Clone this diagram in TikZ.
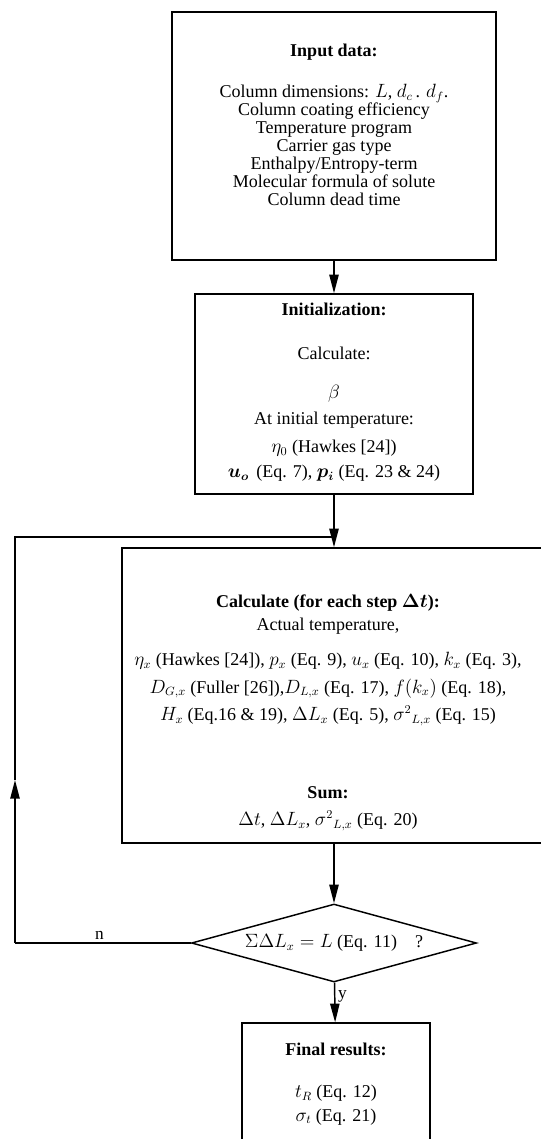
\documentclass[tikz,border=0pt]{standalone}
\usepackage{fontspec}
\setmainfont{Liberation Serif}
\usepackage{amsmath}
\usetikzlibrary{shapes.geometric, arrows.meta, positioning}

\begin{document}
\begin{tikzpicture}[x=0.75pt, y=-0.75pt,
    box/.style={rectangle, draw, line width=1.1pt},
    txt/.style={anchor=north, align=center, inner sep=0pt, font=\fontsize{13.5}{13.5}\selectfont},
    test/.style={diamond, aspect=3.65, draw, line width=1.1pt, inner sep=0pt, minimum width=213.75pt, minimum height=58.5pt, font=\fontsize{13.5}{13.5}\selectfont},
    arrow/.style={-{Triangle[length=14pt, width=7pt]}, line width=1.1pt},
    line/.style={line width=1.1pt},
    tag/.style={font=\fontsize{13}{13}\selectfont, inner sep=2pt}
]
\useasboundingbox (0,0) rectangle (541,1139);

% Boxes
\node[box, minimum width=243pt, minimum height=186pt] (input) at (334,136) {};
\node[box, minimum width=208.5pt, minimum height=150pt] (init) at (334,394) {};
\node[box, minimum width=318pt, minimum height=221.25pt] (step) at (334,695.5) {};
\node[test] (check) at (334,943) {$\Sigma\Delta L_x = L$ (Eq. 11)\quad ?};
\node[box, minimum width=141pt, minimum height=95.25pt] (final) at (336,1086.5) {};

% Texts
\node[txt] (inputtxt) at (334,44) {\textbf{Input data:}\\[17.25pt]
    Column dimensions: $L$, $d_c$\,. $d_f$.\\
    Column coating efficiency\\
    Temperature program\\
    Carrier gas type\\
    Enthalpy/Entropy-term\\
    Molecular formula of solute\\
    Column dead time};
\node[txt] (inittxt) at (334,303) {\textbf{Initialization:}\\[19.5pt]
    Calculate:\\[15.75pt]
    $\beta$\\[6pt]
    At initial temperature:\\[7.5pt]
    $\eta_0$ (Hawkes [24])\\[5.25pt]
    $\boldsymbol{u_o}$\, (Eq. 7), $\boldsymbol{p_i}$ (Eq. 23 \& 24)};
\node[txt] (steptxt) at (328,594) {\textbf{Calculate (for each step $\boldsymbol{\Delta t}$):}\\[3.75pt]
    Actual temperature,\\[12.75pt]
    $\eta_x$ (Hawkes [24]), $p_x$ (Eq. 9), $u_x$ (Eq. 10), $k_x$ (Eq. 3),\\[6pt]
    $D_{G,x}$ (Fuller [26]),$D_{L,x}$ (Eq. 17), $f(k_x)$ (Eq. 18),\\[4.5pt]
    $H_x$ (Eq.16 \& 19), $\Delta L_x$ (Eq. 5), $\sigma^2{}_{L,x}$ (Eq. 15)\\[45pt]
    \textbf{Sum:}\\[6.75pt]
    $\Delta t$, $\Delta L_x$, $\sigma^2{}_{L,x}$ (Eq. 20)};
\node[txt] (finaltxt) at (336,1043) {\textbf{Final results:}\\[18pt]
    $t_R$ (Eq. 12)\\[4pt]
    $\sigma_t$ (Eq. 21)};

% Edges
\draw[arrow] (input) -- (init);
\draw[arrow] (init) -- (step);
\draw[arrow] (step) -- (check);
\draw[arrow] (check) -- node[tag, right, pos=0.35] {y} (final);

\coordinate (ncorner) at (15,943);
\coordinate (loopmid) at (15,780);
\coordinate (ntop) at (15,537);
\coordinate (join) at (334,537);
\draw[line] (check.west) -- node[tag, above, pos=0.52] {n} (ncorner);
\draw[arrow] (ncorner) -- (loopmid);
\draw[line] (loopmid) -- (ntop) -- (join);

\end{tikzpicture}
\end{document}
